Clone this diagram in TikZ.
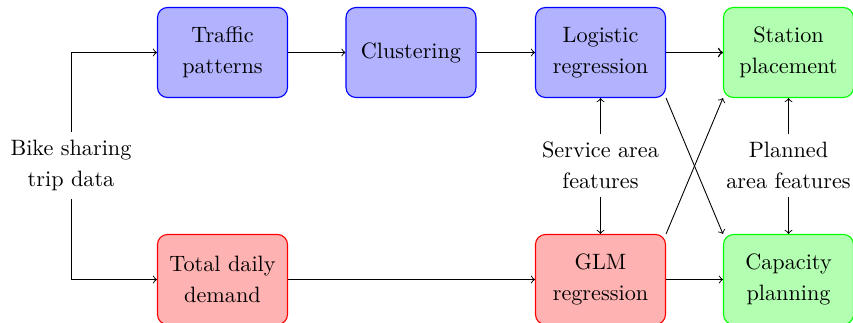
\documentclass[tikz,border=0pt]{standalone}
\begin{document}
\begin{tikzpicture}[x=0.45pt,y=-0.45pt,
  txt/.style={align=center, font=\fontsize{10}{14}\selectfont},
  box/.style={txt, rounded corners=4.5pt, minimum width=58.5pt, minimum height=40.5pt, inner sep=2pt, line width=0.5pt},
  bluebox/.style={box, draw=blue, fill=blue!30},
  redbox/.style={box, draw=red, fill=red!30},
  greenbox/.style={box, draw=green, fill=green!30},
  arr/.style={->}]
  \useasboundingbox (0,0) rectangle (853,322);

  % input data
  \node[txt] (bike) at (71,165.5) {Bike sharing\\trip data};

  % upper row
  \node[bluebox] (traffic) at (222.5,52.5) {Traffic\\patterns};
  \node[bluebox] (cluster) at (411,52.5) {Clustering};
  \node[bluebox] (logit) at (600.5,52.5) {Logistic\\regression};
  \node[greenbox] (station) at (788.5,52.5) {Station\\placement};

  % lower row
  \node[redbox] (total) at (222.5,279.5) {Total daily\\demand};
  \node[redbox] (glm) at (600.5,279.5) {GLM\\regression};
  \node[greenbox] (capacity) at (788.5,279.5) {Capacity\\planning};

  % feature sources
  \node[txt] (service) at (600.5,165.5) {Service area\\features};
  \node[txt] (planned) at (788.5,165.5) {Planned\\area features};

  % connectors
  \draw[arr] (bike.north) |- (traffic.west);
  \draw[arr] (bike.south) |- (total.west);
  \draw[arr] (traffic) -- (cluster);
  \draw[arr] (cluster) -- (logit);
  \draw[arr, line width=0.65pt] (logit) -- (station);
  \draw[arr] (total) -- (glm);
  \draw[arr] (glm) -- (capacity);
  \draw[arr] (service) -- (logit);
  \draw[arr] (service) -- (glm);
  \draw[arr] (planned) -- (station);
  \draw[arr] (planned) -- (capacity);
  \draw[arr] (logit.south east) -- (capacity.north west);
  \draw[arr] (glm.north east) -- (station.south west);
\end{tikzpicture}
\end{document}
